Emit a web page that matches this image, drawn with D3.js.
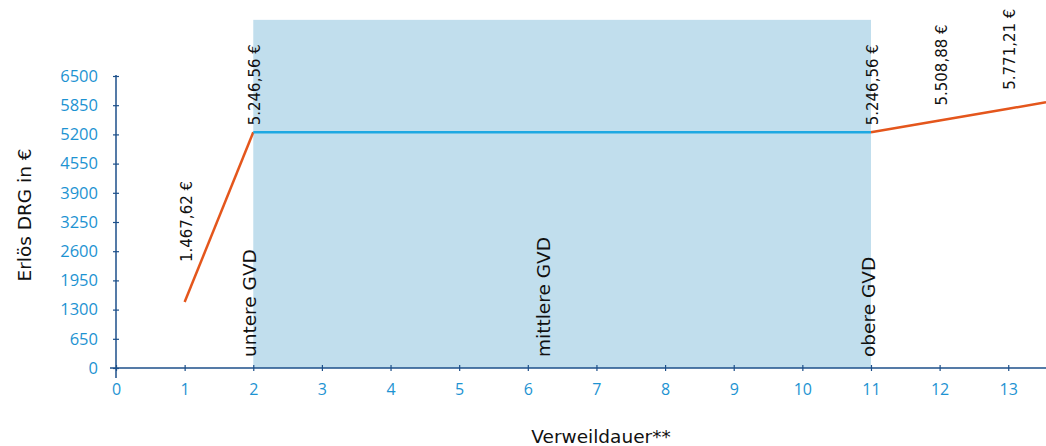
<!DOCTYPE html>
<html>
<head>
<meta charset="utf-8">
<script src="https://cdn.jsdelivr.net/npm/d3@7"></script>
<style>
  html, body { margin: 0; padding: 0; background: #fff; }
  svg { display: block; }
</style>
</head>
<body>
<svg id="chart" width="1046" height="446"></svg>
<script>
// Erlös je Verweildauer (DRG)
const xTicks = [0, 1, 2, 3, 4, 5, 6, 7, 8, 9, 10, 11, 12, 13];
const yTicks = [0, 650, 1300, 1950, 2600, 3250, 3900, 4550, 5200, 5850, 6500];

// Abschlag unterhalb der unteren Grenzverweildauer
const lowerDays = [1, 2];
const lowerValues = [1467.62, 5246.56];

// Fallpauschale zwischen unterer und oberer GVD
const flatDays = [2, 11];
const flatValues = [5246.56, 5246.56];

// Zuschlag oberhalb der oberen GVD
const upperDays = [11, 12, 13, 13.55];
const upperValues = [5246.56, 5508.88, 5771.21, 5915.5];

// Beschriftete Werte
const valueLabelDays = [1, 2, 11, 12, 13];
const valueLabelValues = [1467.62, 5246.56, 5246.56, 5508.88, 5771.21];
const valueLabelTexts = ["1.467,62 €", "5.246,56 €", "5.246,56 €", "5.508,88 €", "5.771,21 €"];

// Grenzverweildauern
const gvdDays = [2, 6, 11];
const gvdTexts = ["untere GVD", "mittlere GVD", "obere GVD"];

// Bereich zwischen unterer und oberer GVD
const bandDays = [2, 11];
const bandTop = 7750;

const svg = d3.select("#chart");
const axisColor = "#1c4f8a";
const tickColor = "#1d93d2";
const tickFont = "'Open Sans', sans-serif";
const labelFont = "'DejaVu Sans', sans-serif";

const x = d3.scaleLinear().domain([0, 13.55]).range([116, 1046]);
const y = d3.scaleLinear().domain([0, 6500]).range([368, 76]);

// Hintergrundfläche
svg.append("rect")
  .attr("x", x(bandDays[0]))
  .attr("y", y(bandTop))
  .attr("width", x(bandDays[1]) - x(bandDays[0]))
  .attr("height", y(0) - y(bandTop))
  .attr("fill", "#c1deed");

// Achsen
const xAxis = svg.append("g")
  .attr("transform", `translate(0,${y(0)})`)
  .call(d3.axisBottom(x).tickValues(xTicks).tickFormat(d3.format("d")).tickSize(0).tickPadding(16));
xAxis.select(".domain").remove();
xAxis.append("line")
  .attr("x1", 110).attr("x2", 1046)
  .attr("stroke", axisColor).attr("stroke-width", 1.5);
xAxis.selectAll(".tick").append("line")
  .attr("y1", -3).attr("y2", 3)
  .attr("stroke", axisColor).attr("stroke-width", 1.2);
xAxis.selectAll(".tick text")
  .attr("fill", tickColor)
  .attr("font-family", tickFont)
  .attr("font-size", 16);

const yAxis = svg.append("g")
  .attr("transform", `translate(${x(0)},0)`)
  .call(d3.axisLeft(y).tickValues(yTicks).tickFormat(d3.format("d")).tickSize(0).tickPadding(18));
yAxis.select(".domain").remove();
yAxis.append("line")
  .attr("y1", y(6500) - 1).attr("y2", y(0) + 10)
  .attr("stroke", axisColor).attr("stroke-width", 1.5);
yAxis.selectAll(".tick").append("line")
  .attr("x1", -3).attr("x2", 3)
  .attr("stroke", axisColor).attr("stroke-width", 1.2);
yAxis.selectAll(".tick text")
  .attr("fill", tickColor)
  .attr("font-family", tickFont)
  .attr("font-size", 16.5);

// Linien
const line = d3.line().x(d => x(d[0])).y(d => y(d[1]));

svg.append("path")
  .datum(d3.zip(lowerDays, lowerValues))
  .attr("d", line)
  .attr("fill", "none").attr("stroke", "#e4561c").attr("stroke-width", 2.5);

svg.append("path")
  .datum(d3.zip(upperDays, upperValues))
  .attr("d", line)
  .attr("fill", "none").attr("stroke", "#e4561c").attr("stroke-width", 2.5);

svg.append("path")
  .datum(d3.zip(flatDays, flatValues))
  .attr("d", line)
  .attr("fill", "none").attr("stroke", "#1ea8e2").attr("stroke-width", 2.5);

// Wertbeschriftungen (senkrecht)
const labelGap = [40, 7, 7, 15, 19];
valueLabelTexts.forEach((t, i) => {
  const lx = x(valueLabelDays[i]) + 7;
  const ly = y(valueLabelValues[i]) - labelGap[i];
  svg.append("text")
    .attr("transform", `translate(${lx},${ly}) rotate(-90)`)
    .attr("font-family", labelFont)
    .attr("font-size", 15)
    .attr("fill", "#111")
    .text(t);
});

const gvdShift = [3, 22, 4];
gvdTexts.forEach((t, i) => {
  const lx = x(gvdDays[i]) + gvdShift[i];
  svg.append("text")
    .attr("transform", `translate(${lx},${y(0) - 11}) rotate(-90)`)
    .attr("font-family", labelFont)
    .attr("font-size", 18.5)
    .attr("fill", "#111")
    .text(t);
});

// Achsentitel
svg.append("text")
  .attr("x", 601).attr("y", 443)
  .attr("text-anchor", "middle")
  .attr("font-family", labelFont)
  .attr("font-size", 18.5)
  .attr("fill", "#111")
  .text("Verweildauer**");

svg.append("text")
  .attr("transform", `translate(31,215) rotate(-90)`)
  .attr("text-anchor", "middle")
  .attr("font-family", labelFont)
  .attr("font-size", 18.5)
  .attr("fill", "#111")
  .text("Erlös DRG in €");
</script>
</body>
</html>
